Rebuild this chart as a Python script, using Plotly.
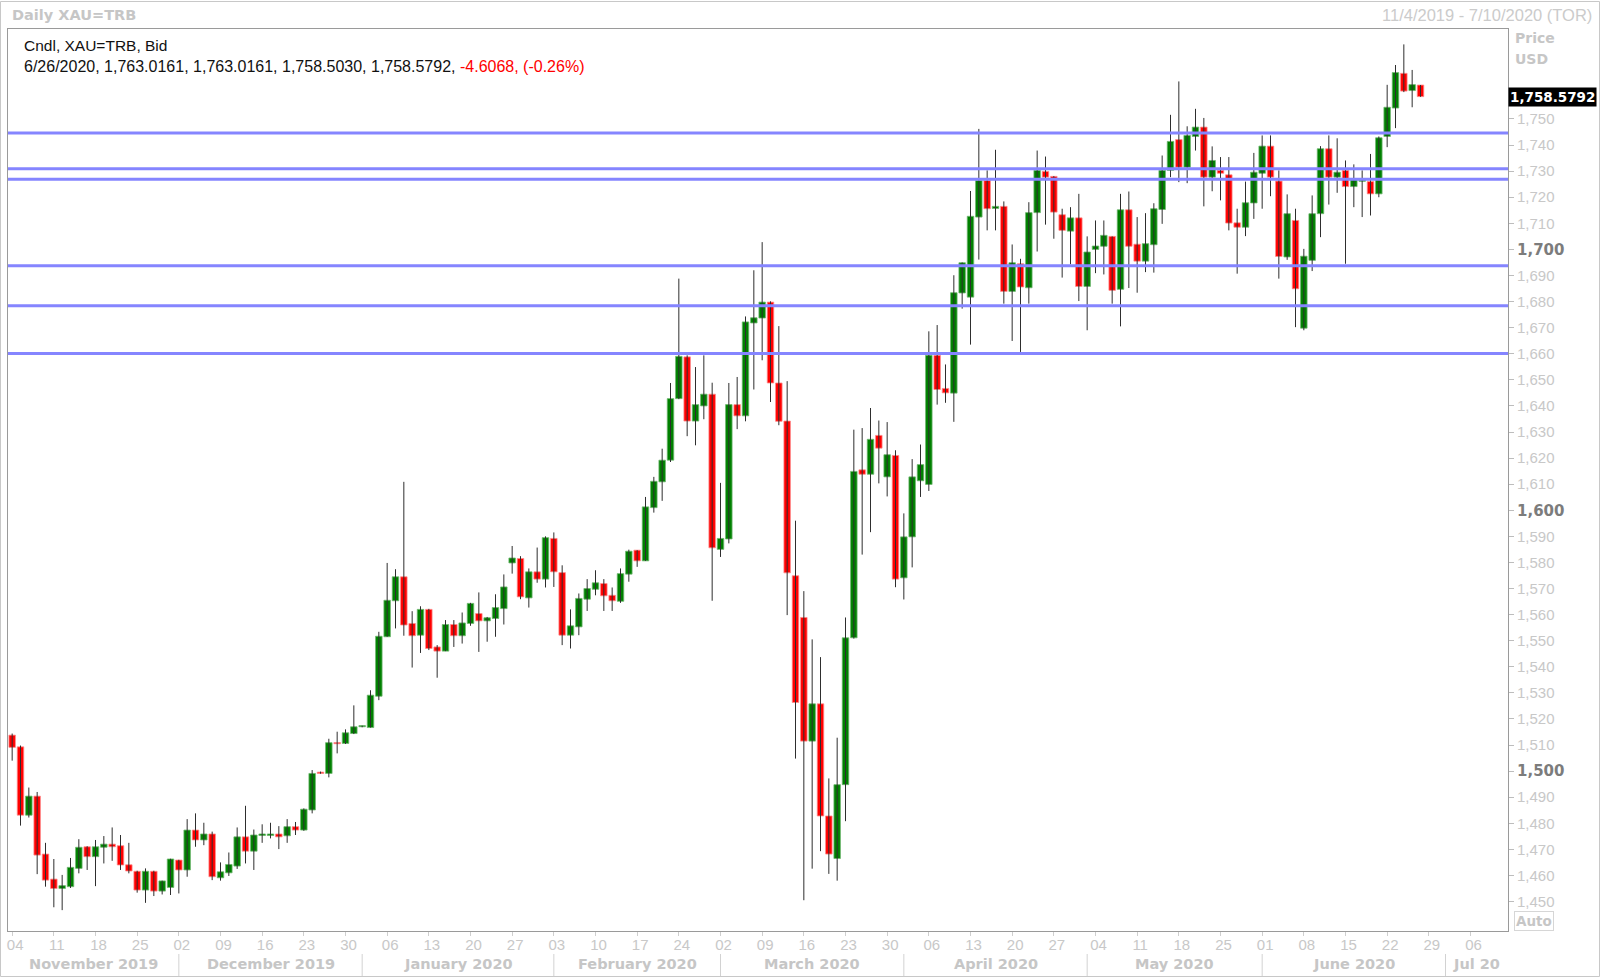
import pandas as pd
import plotly.graph_objects as go

# ---------------- data ----------------
symbol = "XAU=TRB"
start_date = "2019-11-04"
last_date = "2020-06-26"
axis_end = "2020-07-10"

opens = [
    1513.8, 1509.3, 1483.1, 1490.4, 1468.2, 1458.6, 1455.0, 1455.7, 1462.7, 1471.0,
    1467.2, 1470.8, 1472.0, 1471.4, 1464.1, 1461.6, 1454.4, 1461.6, 1454.0, 1455.4,
    1465.9, 1462.1, 1477.4, 1473.6, 1475.9, 1459.1, 1461.0, 1463.6, 1474.8, 1469.3,
    1475.3, 1475.3, 1475.9, 1475.2, 1478.7, 1477.4, 1485.1, 1499.6, 1499.1, 1510.9,
    1510.6, 1514.4, 1517.0, 1516.7, 1528.7, 1551.5, 1565.3, 1574.5, 1556.6, 1552.1,
    1562.0, 1547.6, 1546.0, 1556.2, 1551.9, 1556.6, 1560.4, 1557.6, 1558.5, 1562.3,
    1579.8, 1581.5, 1566.4, 1576.4, 1573.6, 1589.2, 1576.1, 1552.1, 1555.3, 1565.9,
    1569.7, 1571.9, 1567.4, 1565.1, 1575.5, 1584.7, 1580.6, 1601.0, 1610.9, 1619.2,
    1642.8, 1658.8, 1634.2, 1640.0, 1644.5, 1585.0, 1589.0, 1640.5, 1636.2, 1671.8,
    1673.7, 1679.8, 1648.8, 1634.2, 1574.9, 1558.9, 1511.5, 1525.8, 1482.8, 1466.5,
    1494.8, 1551.1, 1615.5, 1613.8, 1628.7, 1612.8, 1621.0, 1574.1, 1589.8, 1611.3,
    1609.9, 1659.4, 1646.7, 1644.9, 1683.3, 1681.7, 1712.4, 1726.4, 1715.7, 1716.5,
    1683.9, 1694.5, 1685.3, 1714.1, 1729.9, 1728.0, 1713.3, 1707.0, 1712.1, 1685.8,
    1700.0, 1701.2, 1705.0, 1684.7, 1715.2, 1702.0, 1695.5, 1701.8, 1715.3, 1730.3,
    1742.1, 1731.5, 1743.3, 1746.9, 1727.7, 1730.3, 1728.6, 1710.2, 1708.5, 1717.8,
    1729.2, 1739.6, 1726.2, 1697.1, 1711.1, 1669.8, 1695.8, 1713.7, 1738.6, 1727.7,
    1730.3, 1724.1, 1726.1, 1726.0, 1721.3, 1743.3, 1754.2, 1767.5, 1760.9, 1763.0161,
]
highs = [
    1514.4, 1509.8, 1493.7, 1492.0, 1472.5, 1466.3, 1460.2, 1466.7, 1473.9, 1471.2,
    1473.6, 1475.1, 1478.4, 1475.5, 1472.5, 1461.8, 1462.7, 1461.8, 1458.0, 1466.4,
    1466.0, 1481.6, 1483.8, 1480.2, 1476.8, 1465.0, 1468.8, 1478.4, 1486.7, 1477.6,
    1479.6, 1480.2, 1478.9, 1481.6, 1480.5, 1485.7, 1500.4, 1499.8, 1512.4, 1515.1,
    1516.0, 1525.2, 1517.4, 1531.0, 1553.4, 1579.8, 1577.4, 1610.9, 1561.3, 1563.2,
    1562.2, 1548.3, 1557.9, 1557.9, 1560.8, 1564.5, 1568.5, 1559.1, 1567.8, 1575.4,
    1586.3, 1582.4, 1577.7, 1585.7, 1590.0, 1591.5, 1578.9, 1562.0, 1568.1, 1573.6,
    1577.0, 1573.6, 1570.4, 1577.7, 1584.9, 1584.7, 1605.1, 1612.8, 1623.6, 1648.8,
    1688.8, 1659.4, 1654.9, 1659.4, 1648.9, 1610.5, 1648.8, 1651.1, 1674.3, 1692.0,
    1702.8, 1680.1, 1670.6, 1649.5, 1596.0, 1569.0, 1550.5, 1543.7, 1497.2, 1512.8,
    1558.9, 1630.9, 1631.5, 1639.2, 1634.4, 1633.8, 1623.0, 1598.8, 1619.6, 1625.2,
    1668.6, 1671.0, 1655.9, 1690.1, 1695.0, 1722.4, 1746.2, 1730.3, 1738.2, 1718.4,
    1701.9, 1696.4, 1718.1, 1737.9, 1735.6, 1728.1, 1715.6, 1716.2, 1721.3, 1705.0,
    1711.1, 1711.1, 1705.0, 1721.3, 1722.2, 1712.4, 1713.9, 1717.7, 1736.0, 1751.6,
    1764.4, 1747.2, 1753.9, 1750.4, 1739.5, 1735.4, 1735.4, 1715.6, 1726.0, 1737.0,
    1743.7, 1743.7, 1730.3, 1721.1, 1715.6, 1700.2, 1720.7, 1739.6, 1743.7, 1742.6,
    1734.1, 1732.6, 1730.3, 1736.6, 1743.3, 1763.1, 1770.7, 1778.6, 1768.8, 1763.0161,
]
lows = [
    1504.0, 1479.1, 1482.2, 1460.5, 1455.7, 1447.8, 1446.7, 1455.2, 1460.8, 1462.1,
    1455.9, 1464.6, 1465.6, 1462.1, 1460.8, 1453.4, 1449.5, 1452.1, 1452.7, 1452.5,
    1453.1, 1459.5, 1471.0, 1471.6, 1458.2, 1458.0, 1459.8, 1462.5, 1464.6, 1462.1,
    1472.5, 1474.2, 1470.1, 1472.5, 1475.5, 1477.1, 1483.8, 1499.0, 1497.6, 1506.8,
    1510.4, 1514.2, 1516.8, 1516.7, 1527.2, 1551.5, 1554.7, 1551.9, 1539.7, 1545.3,
    1546.4, 1535.8, 1546.0, 1547.6, 1548.9, 1555.7, 1545.7, 1549.6, 1551.5, 1556.2,
    1575.7, 1565.9, 1562.7, 1572.2, 1570.4, 1570.6, 1548.3, 1547.0, 1552.1, 1561.4,
    1567.4, 1561.4, 1561.4, 1564.5, 1572.6, 1578.3, 1580.6, 1599.1, 1603.6, 1618.5,
    1642.6, 1628.4, 1624.9, 1634.9, 1565.3, 1582.1, 1587.3, 1631.1, 1634.1, 1646.3,
    1657.5, 1641.5, 1632.6, 1559.8, 1504.8, 1450.5, 1462.6, 1469.3, 1460.6, 1458.0,
    1480.8, 1550.8, 1583.0, 1591.6, 1610.3, 1605.3, 1570.5, 1565.8, 1578.1, 1605.1,
    1607.4, 1640.5, 1641.2, 1633.9, 1677.3, 1663.5, 1696.1, 1707.3, 1707.3, 1679.2,
    1664.9, 1660.7, 1679.2, 1699.2, 1709.5, 1704.1, 1689.2, 1694.3, 1680.2, 1669.0,
    1690.9, 1690.4, 1679.2, 1670.5, 1685.2, 1683.4, 1691.3, 1691.1, 1709.8, 1727.7,
    1725.8, 1725.4, 1737.9, 1716.5, 1722.3, 1718.8, 1707.3, 1690.7, 1705.1, 1711.7,
    1715.6, 1720.4, 1688.8, 1696.0, 1670.2, 1669.0, 1691.7, 1704.7, 1717.2, 1721.7,
    1694.5, 1716.2, 1712.4, 1713.0, 1720.0, 1739.2, 1746.5, 1760.3, 1754.5, 1758.5030,
]
closes = [
    1509.1, 1483.1, 1490.4, 1467.8, 1458.2, 1455.0, 1456.1, 1463.1, 1470.8, 1467.2,
    1471.0, 1472.0, 1471.0, 1464.0, 1461.7, 1454.4, 1461.6, 1454.0, 1457.9, 1466.3,
    1462.1, 1477.4, 1473.6, 1475.9, 1459.5, 1461.4, 1464.2, 1474.8, 1469.3, 1475.5,
    1475.9, 1475.9, 1474.8, 1478.7, 1477.4, 1485.4, 1499.1, 1499.1, 1510.9, 1510.5,
    1514.7, 1517.0, 1517.2, 1529.1, 1551.7, 1565.5, 1574.5, 1556.0, 1551.9, 1562.0,
    1547.0, 1546.0, 1556.2, 1551.9, 1556.8, 1564.3, 1557.6, 1558.8, 1562.7, 1570.6,
    1581.7, 1566.8, 1576.4, 1573.6, 1589.5, 1576.4, 1552.1, 1555.7, 1566.2, 1570.0,
    1572.2, 1567.2, 1565.3, 1575.7, 1584.3, 1580.6, 1601.3, 1611.1, 1619.2, 1642.8,
    1659.0, 1634.2, 1640.5, 1644.5, 1585.6, 1589.2, 1640.5, 1636.2, 1672.2, 1673.8,
    1679.8, 1648.8, 1634.1, 1576.0, 1526.3, 1511.5, 1525.8, 1482.8, 1468.2, 1494.8,
    1551.1, 1614.9, 1613.8, 1627.2, 1623.8, 1621.3, 1573.6, 1589.8, 1612.8, 1617.5,
    1659.4, 1646.3, 1645.0, 1683.4, 1694.9, 1712.7, 1726.4, 1715.6, 1716.5, 1683.9,
    1694.9, 1685.6, 1714.1, 1730.3, 1727.7, 1714.3, 1707.3, 1712.1, 1685.8, 1699.0,
    1701.3, 1705.4, 1684.3, 1715.2, 1701.2, 1695.5, 1702.2, 1715.6, 1730.3, 1741.4,
    1731.5, 1743.7, 1746.9, 1727.7, 1734.1, 1729.2, 1710.1, 1708.5, 1717.9, 1729.6,
    1739.6, 1727.7, 1697.3, 1713.7, 1684.9, 1697.4, 1713.7, 1738.6, 1727.7, 1729.6,
    1724.1, 1726.7, 1726.4, 1721.3, 1742.8, 1754.5, 1767.8, 1760.7, 1763.186, 1758.5792,
]

levels = [1744.6, 1730.9, 1726.9, 1693.7, 1678.4, 1660.1]
ytick_vals = list(range(1450, 1751, 10))
major_ticks = [1500, 1600, 1700]
month_labels = ["November 2019", "December 2019", "January 2020", "February 2020",
                "March 2020", "April 2020", "May 2020", "June 2020", "Jul 20"]

# ---------------- styling ----------------
UP, DOWN = "#008000", "#ff0000"
UP_EDGE, DOWN_EDGE = "#6fb86f", "#ff8c8c"
LIGHT = "#c6c6c6"
BOLD_FONT = "DejaVu Sans"

W, H = 1600, 978
PL, PR, PT, PB = 8, 1508, 29, 931


def px(x):
    return (x - PL) / (PR - PL)


def py(y):
    return (PB - y) / (PB - PT)


days = pd.bdate_range(start_date, last_date)
assert len(days) == len(opens) == len(highs) == len(lows) == len(closes)
half = pd.Timedelta(hours=12)
xc = [(d + half).strftime("%Y-%m-%d %H:%M") for d in days]

fig = go.Figure()

# wicks
wx, wy = [], []
for t, hi, lo in zip(xc, highs, lows):
    wx += [t, t, None]
    wy += [lo, hi, None]
fig.add_trace(go.Scatter(x=wx, y=wy, mode="lines",
                         line=dict(color="#2e2e2e", width=1),
                         hoverinfo="skip", showlegend=False))

# bodies
base = [min(o, c) for o, c in zip(opens, closes)]
height = [max(abs(c - o), 0.45) for o, c in zip(opens, closes)]
is_up = [c >= o for o, c in zip(opens, closes)]
fig.add_trace(go.Bar(
    x=xc, y=height, base=base,
    width=0.78 * 86400000,
    marker=dict(color=[UP if u else DOWN for u in is_up],
                line=dict(color=[UP_EDGE if u else DOWN_EDGE for u in is_up], width=0.8)),
    hoverinfo="skip", showlegend=False))

shapes = []
for lv in levels:
    shapes.append(dict(type="line", xref="paper", yref="y", x0=0, x1=1, y0=lv, y1=lv,
                       line=dict(color="#8585ff", width=3), layer="above"))

# month separators and labels
axis_days = pd.bdate_range(start_date, axis_end)
n_slots = len(axis_days)
month_starts = []
for m in pd.period_range(start_date, axis_end, freq="M"):
    idx = [i for i, d in enumerate(axis_days) if d.year == m.year and d.month == m.month]
    month_starts.append(idx[0])
bounds = [0.0] + [i + 0.5 for i in month_starts[1:]] + [float(n_slots)]


def slot_to_date(s):
    k = min(int(s), n_slots - 1)
    return (axis_days[k] + pd.Timedelta(days=s - k)).strftime("%Y-%m-%d %H:%M:%S")


annotations = []
for j, lab in enumerate(month_labels):
    mid = (bounds[j] + bounds[j + 1]) / 2
    annotations.append(dict(x=slot_to_date(mid), y=py(964), xref="x", yref="paper",
                            text=f"<b>{lab}</b>", showarrow=False, xanchor="center", yanchor="middle",
                            font=dict(family=BOLD_FONT, size=14.5, color=LIGHT)))
for i in month_starts[1:]:
    xs = (axis_days[i] + half).strftime("%Y-%m-%d %H:%M")
    shapes.append(dict(type="line", xref="x", yref="paper", x0=xs, x1=xs, y0=py(954), y1=py(976),
                       line=dict(color="#d2d2d2", width=1)))

# outer frame
shapes.append(dict(type="rect", xref="paper", yref="paper", x0=px(0.5), x1=px(1599.5),
                   y0=py(976.5), y1=py(1.5), line=dict(color="#c8c8c8", width=1)))

# header texts
d_last = days[-1]
d0 = pd.Timestamp(start_date)
d1 = pd.Timestamp(axis_end)
chg = closes[-1] - closes[-2]
pct = chg / closes[-2] * 100
ohlc_line = (f"{d_last.month}/{d_last.day}/{d_last.year}, {opens[-1]:,.4f}, {highs[-1]:,.4f}, "
             f"{lows[-1]:,.4f}, {closes[-1]:,.4f}, "
             f"<span style='color:#ff0000'>{chg:.4f}, ({pct:.2f}%)</span>")
annotations += [
    dict(x=px(10), y=py(15), text=f"<b>Daily {symbol}</b>", xanchor="left",
         font=dict(family=BOLD_FONT, size=14.5, color=LIGHT)),
    dict(x=px(1594), y=py(15), xanchor="right",
         text=f"{d0.month}/{d0.day}/{d0.year} - {d1.month}/{d1.day}/{d1.year} (TOR)",
         font=dict(size=16.5, color="#cbcbcb")),
    dict(x=px(22), y=py(46), text=f"Cndl, {symbol}, Bid", xanchor="left",
         font=dict(size=15.5, color="#111111")),
    dict(x=px(22), y=py(67), text=ohlc_line, xanchor="left",
         font=dict(size=16, color="#111111")),
    dict(x=px(1513), y=py(38), text="<b>Price</b>", xanchor="left",
         font=dict(family=BOLD_FONT, size=14, color=LIGHT)),
    dict(x=px(1513), y=py(59), text="<b>USD</b>", xanchor="left",
         font=dict(family=BOLD_FONT, size=14, color=LIGHT)),
    dict(x=px(1514), y=py(920.5), text="<b>Auto</b>", xanchor="left",
         font=dict(family=BOLD_FONT, size=13.5, color=LIGHT),
         bordercolor="#d6d6d6", borderwidth=1, borderpad=1),
]
for a in annotations:
    a.setdefault("xref", "paper")
    a.setdefault("yref", "paper")
    a.setdefault("showarrow", False)
    a.setdefault("yanchor", "middle")

annotations.append(dict(x=1, xref="paper", y=closes[-1], yref="y", xanchor="left", yanchor="middle",
                        text=f"<b>{closes[-1]:,.4f}</b>", showarrow=False, bgcolor="#000000",
                        borderpad=1, font=dict(family=BOLD_FONT, size=13.5, color="#ffffff")))

ytext = [f"<span style='font-family:{BOLD_FONT};color:#7c7c7c'><b>{v:,}</b></span>"
         if v in major_ticks else f"{v:,}" for v in ytick_vals]

mondays = pd.date_range(start_date, axis_end, freq="W-MON")
xtick_vals = [(d + half).strftime("%Y-%m-%d %H:%M") for d in mondays]
xtick_text = [d.strftime("%d") for d in mondays]

fig.update_layout(
    width=W, height=H,
    margin=dict(l=PL, r=W - PR, t=PT, b=H - PB, pad=0, autoexpand=False),
    paper_bgcolor="white", plot_bgcolor="white",
    showlegend=False, hovermode=False,
    font=dict(family="Liberation Sans", size=15, color=LIGHT),
    shapes=shapes, annotations=annotations,
)
fig.update_xaxes(
    type="date", automargin=False,
    range=[start_date + " 00:00:00", axis_end + " 23:59:59"],
    rangebreaks=[dict(bounds=["sat", "mon"])],
    tickmode="array", tickvals=xtick_vals, ticktext=xtick_text,
    ticks="outside", ticklen=4, tickcolor="#cfcfcf",
    ticklabelshift=3, ticklabelstandoff=-4,
    tickfont=dict(family="Liberation Sans", size=15, color="#c8c8c8"),
    showgrid=False, zeroline=False,
    showline=True, linecolor="#9a9a9a", linewidth=1, mirror=True,
)
fig.update_yaxes(
    side="right", automargin=False, range=[1438.7, 1784.5],
    tickmode="array", tickvals=ytick_vals, ticktext=ytext,
    ticks="outside", ticklen=5, tickcolor="#bdbdbd",
    tickfont=dict(family="Liberation Sans", size=15, color="#c8c8c8"),
    showgrid=False, zeroline=False,
    showline=True, linecolor="#9a9a9a", linewidth=1, mirror=True,
)

fig.write_html(
    "out.html",
    config={"displayModeBar": False},
    post_script="document.body.style.margin='0';document.body.style.padding='0';"
                "document.documentElement.style.overflow='hidden';",
)
